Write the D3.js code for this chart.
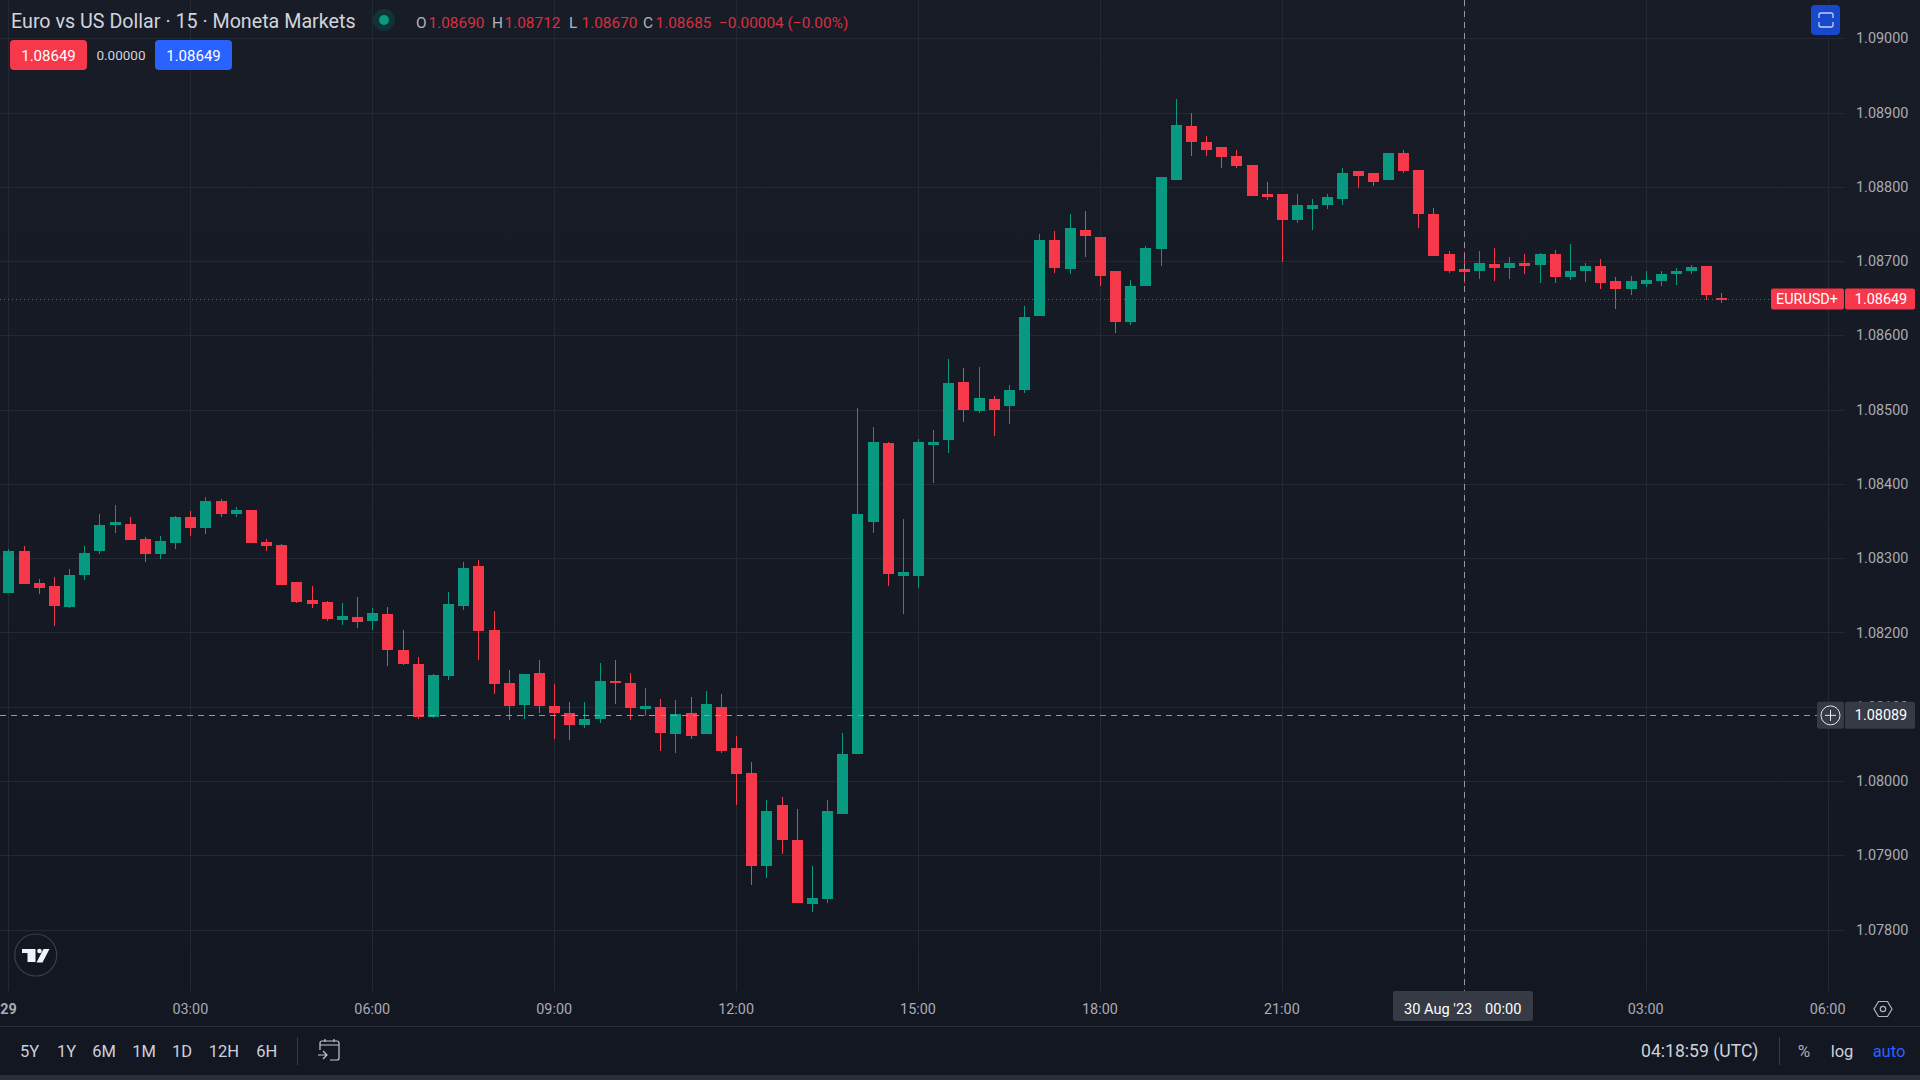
<!DOCTYPE html>
<html>
<head>
<meta charset="utf-8">
<script src="https://cdn.jsdelivr.net/npm/d3@7"></script>
<style>
  html, body { margin: 0; padding: 0; background: #131722; overflow: hidden; }
  svg { display: block; }
  text { font-family: Roboto, sans-serif; }
</style>
</head>
<body>
<div id="chart"></div>
<script>
const width = 1920;
const height = 1080;

const colors = {
  up: "#089981",
  down: "#f7374a",
  grid: "#242833",
  axisText: "#a9acb5",
  toolbarText: "#cdd1da",
  crosshair: "#9598a1",
  crossBox: "#363a45",
  blue: "#2962ff"
};

// 15 minute bars, first one at 29 Aug 2023 00:00 UTC
const firstBar = Date.UTC(2023, 7, 29, 0, 0);
const barMinutes = 15;

const open = [
  1.08253, 1.08310, 1.08267, 1.08263, 1.08234, 1.08278, 1.08309, 1.08344, 1.08346, 1.08326, 1.08305, 1.08321,
  1.08356, 1.08340, 1.08377, 1.08360, 1.08365, 1.08322, 1.08318, 1.08268, 1.08244, 1.08241, 1.08217, 1.08221,
  1.08216, 1.08225, 1.08176, 1.08157, 1.08086, 1.08141, 1.08236, 1.08290, 1.08203, 1.08132, 1.08102, 1.08146,
  1.08101, 1.08092, 1.08075, 1.08083, 1.08134, 1.08132, 1.08097, 1.08099, 1.08063, 1.08092, 1.08063, 1.08099,
  1.08045, 1.08011, 1.07886, 1.07968, 1.07921, 1.07835, 1.07841, 1.07956, 1.08036, 1.08349, 1.08455, 1.08276,
  1.08276, 1.08452, 1.08459, 1.08537, 1.08498, 1.08514, 1.08505, 1.08526, 1.08626, 1.08728, 1.08690, 1.08742,
  1.08733, 1.08686, 1.08618, 1.08666, 1.08716, 1.08809, 1.08882, 1.08861, 1.08853, 1.08841, 1.08830, 1.08790,
  1.08790, 1.08755, 1.08770, 1.08776, 1.08784, 1.08821, 1.08818, 1.08809, 1.08845, 1.08822, 1.08764, 1.08710,
  1.08690, 1.08686, 1.08696, 1.08691, 1.08698, 1.08695, 1.08710, 1.08678, 1.08686, 1.08694, 1.08673, 1.08663,
  1.08669, 1.08673, 1.08682, 1.08687, 1.08694, 1.08650
];
const high = [
  1.08313, 1.08317, 1.08272, 1.08274, 1.08286, 1.08317, 1.08359, 1.08371, 1.08356, 1.08328, 1.08330, 1.08357,
  1.08363, 1.08383, 1.08380, 1.08369, 1.08365, 1.08326, 1.08319, 1.08268, 1.08263, 1.08242, 1.08240, 1.08248,
  1.08233, 1.08234, 1.08203, 1.08167, 1.08144, 1.08255, 1.08295, 1.08298, 1.08229, 1.08150, 1.08144, 1.08163,
  1.08130, 1.08107, 1.08107, 1.08159, 1.08163, 1.08146, 1.08125, 1.08111, 1.08109, 1.08113, 1.08121, 1.08117,
  1.08061, 1.08025, 1.07975, 1.07979, 1.07962, 1.07886, 1.07975, 1.08064, 1.08502, 1.08476, 1.08457, 1.08353,
  1.08460, 1.08472, 1.08568, 1.08556, 1.08557, 1.08518, 1.08533, 1.08640, 1.08737, 1.08740, 1.08764, 1.08767,
  1.08733, 1.08686, 1.08674, 1.08721, 1.08813, 1.08918, 1.08900, 1.08869, 1.08853, 1.08849, 1.08830, 1.08806,
  1.08790, 1.08791, 1.08783, 1.08791, 1.08826, 1.08821, 1.08818, 1.08846, 1.08849, 1.08822, 1.08772, 1.08713,
  1.08712, 1.08714, 1.08718, 1.08706, 1.08709, 1.08711, 1.08715, 1.08723, 1.08698, 1.08703, 1.08679, 1.08680,
  1.08687, 1.08687, 1.08691, 1.08695, 1.08694, 1.08657
];
const low = [
  1.08253, 1.08265, 1.08252, 1.08209, 1.08233, 1.08271, 1.08306, 1.08334, 1.08325, 1.08295, 1.08299, 1.08313,
  1.08330, 1.08333, 1.08356, 1.08356, 1.08321, 1.08309, 1.08264, 1.08240, 1.08233, 1.08215, 1.08210, 1.08206,
  1.08203, 1.08155, 1.08156, 1.08083, 1.08085, 1.08136, 1.08230, 1.08163, 1.08117, 1.08082, 1.08084, 1.08092,
  1.08057, 1.08055, 1.08071, 1.08078, 1.08103, 1.08082, 1.08088, 1.08040, 1.08037, 1.08056, 1.08063, 1.08037,
  1.07967, 1.07860, 1.07870, 1.07901, 1.07836, 1.07824, 1.07836, 1.07956, 1.08036, 1.08334, 1.08262, 1.08225,
  1.08260, 1.08401, 1.08442, 1.08484, 1.08496, 1.08465, 1.08480, 1.08523, 1.08626, 1.08684, 1.08682, 1.08705,
  1.08666, 1.08603, 1.08614, 1.08666, 1.08693, 1.08809, 1.08841, 1.08842, 1.08826, 1.08826, 1.08787, 1.08782,
  1.08699, 1.08751, 1.08742, 1.08770, 1.08775, 1.08799, 1.08801, 1.08809, 1.08819, 1.08745, 1.08707, 1.08684,
  1.08670, 1.08676, 1.08673, 1.08676, 1.08683, 1.08671, 1.08671, 1.08675, 1.08672, 1.08663, 1.08636, 1.08655,
  1.08665, 1.08667, 1.08668, 1.08683, 1.08648, 1.08644
];
const close = [
  1.08310, 1.08265, 1.08260, 1.08236, 1.08278, 1.08307, 1.08345, 1.08349, 1.08325, 1.08306, 1.08323, 1.08356,
  1.08340, 1.08377, 1.08360, 1.08365, 1.08321, 1.08317, 1.08264, 1.08241, 1.08238, 1.08218, 1.08222, 1.08214,
  1.08226, 1.08176, 1.08157, 1.08086, 1.08143, 1.08238, 1.08287, 1.08202, 1.08130, 1.08101, 1.08144, 1.08101,
  1.08092, 1.08076, 1.08084, 1.08134, 1.08133, 1.08098, 1.08101, 1.08064, 1.08090, 1.08061, 1.08103, 1.08040,
  1.08009, 1.07886, 1.07959, 1.07920, 1.07836, 1.07843, 1.07960, 1.08036, 1.08360, 1.08456, 1.08279, 1.08282,
  1.08457, 1.08457, 1.08536, 1.08499, 1.08515, 1.08499, 1.08527, 1.08625, 1.08728, 1.08691, 1.08745, 1.08734,
  1.08680, 1.08618, 1.08667, 1.08717, 1.08813, 1.08883, 1.08860, 1.08849, 1.08840, 1.08828, 1.08787, 1.08786,
  1.08755, 1.08775, 1.08776, 1.08786, 1.08819, 1.08815, 1.08807, 1.08845, 1.08821, 1.08764, 1.08707, 1.08687,
  1.08685, 1.08698, 1.08691, 1.08698, 1.08694, 1.08709, 1.08678, 1.08687, 1.08694, 1.08671, 1.08663, 1.08673,
  1.08675, 1.08683, 1.08687, 1.08692, 1.08655, 1.08649
];

const priceTicks = [1.09, 1.089, 1.088, 1.087, 1.086, 1.085, 1.084, 1.083, 1.082, 1.081, 1.08, 1.079, 1.078];
const rangeButtons = ["5Y", "1Y", "6M", "1M", "1D", "12H", "6H"];
const legendValues = [
  ["O", "1.08690"],
  ["H", "1.08712"],
  ["L", "1.08670"],
  ["C", "1.08685"]
];
const lastPrice = 1.08649;
const crossPrice = 1.08089;
const crossTime = Date.UTC(2023, 7, 30, 0, 0);

const bars = open.map((o, i) => ({
  time: new Date(firstBar + i * barMinutes * 60000),
  open: o,
  high: high[i],
  low: low[i],
  close: close[i]
}));

const plotBottom = 991;
const axisBottom = 1026;
const priceAxisLeft = 1845;

const svg = d3.select("#chart")
  .append("svg")
  .attr("width", width)
  .attr("height", height)
  .attr("viewBox", `0 0 ${width} ${height}`);

const gradient = svg.append("defs")
  .append("linearGradient")
  .attr("id", "paneBg")
  .attr("x1", 0).attr("y1", 0).attr("x2", 0).attr("y2", 1);
gradient.append("stop").attr("offset", "0%").attr("stop-color", "#181c27");
gradient.append("stop").attr("offset", "100%").attr("stop-color", "#131722");

svg.append("rect")
  .attr("width", width)
  .attr("height", axisBottom)
  .attr("fill", "url(#paneBg)");

svg.append("rect")
  .attr("y", axisBottom)
  .attr("width", width)
  .attr("height", height - axisBottom)
  .attr("fill", "#131722");

svg.append("rect")
  .attr("y", 1075)
  .attr("width", width)
  .attr("height", 5)
  .attr("fill", "#2a2e39");

svg.append("line")
  .attr("x1", 0).attr("x2", width)
  .attr("y1", axisBottom + 0.5).attr("y2", axisBottom + 0.5)
  .attr("stroke", "#2a2e39");

const x = d3.scaleUtc()
  .domain([new Date(firstBar), new Date(firstBar + 120 * barMinutes * 60000)])
  .range([8.4, 1827.6]);

const y = d3.scaleLinear()
  .domain([1.09, 1.078])
  .range([38.3, 929.5]);

const timeTicks = x.ticks(d3.utcHour.every(3));

// grid
svg.append("g")
  .selectAll("line")
  .data(timeTicks)
  .join("line")
  .attr("x1", d => Math.round(x(d)) + 0.5)
  .attr("x2", d => Math.round(x(d)) + 0.5)
  .attr("y1", 0)
  .attr("y2", plotBottom)
  .attr("stroke", colors.grid);

svg.append("g")
  .selectAll("line")
  .data(priceTicks)
  .join("line")
  .attr("x1", 0)
  .attr("x2", priceAxisLeft)
  .attr("y1", d => Math.round(y(d)) + 0.5)
  .attr("y2", d => Math.round(y(d)) + 0.5)
  .attr("stroke", colors.grid);

// candles
const candle = svg.append("g")
  .attr("shape-rendering", "crispEdges")
  .selectAll("g")
  .data(bars)
  .join("g")
  .attr("fill", d => d.close >= d.open ? colors.up : colors.down);

candle.append("rect")
  .attr("x", d => Math.round(x(d.time)))
  .attr("width", 1)
  .attr("y", d => y(d.high))
  .attr("height", d => y(d.low) - y(d.high));

candle.append("rect")
  .attr("x", d => Math.round(x(d.time)) - 5)
  .attr("width", 11)
  .attr("y", d => y(Math.max(d.open, d.close)))
  .attr("height", d => Math.max(1.5, Math.abs(y(d.open) - y(d.close))));

// price axis
const priceAxis = svg.append("g")
  .attr("transform", `translate(${priceAxisLeft}, 0)`)
  .call(d3.axisRight(y).tickValues(priceTicks).tickFormat(d3.format(".5f")).tickSize(0).tickPadding(11));
priceAxis.select(".domain").remove();
priceAxis.selectAll("text")
  .attr("fill", colors.axisText)
  .style("font-size", "14.4px")
  .style("font-family", "Roboto, sans-serif");

// time axis, the midnight label under the crosshair box stays hidden
const timeAxis = svg.append("g")
  .attr("transform", `translate(-0.5, ${plotBottom})`)
  .call(d3.axisBottom(x)
    .tickValues(timeTicks.filter(d => +d !== crossTime))
    .tickFormat(d => d.getUTCHours() === 0 ? d3.utcFormat("%-d")(d) : d3.utcFormat("%H:%M")(d))
    .tickSize(0)
    .tickPadding(13));
timeAxis.select(".domain").remove();
timeAxis.selectAll("text")
  .attr("fill", colors.axisText)
  .style("font-size", "14.4px")
  .style("font-family", "Roboto, sans-serif")
  .style("font-weight", d => d.getUTCHours() === 0 ? 700 : 400);

// last price line and labels
svg.append("line")
  .attr("x1", 0)
  .attr("x2", 1771)
  .attr("y1", Math.round(y(lastPrice)) + 0.5)
  .attr("y2", Math.round(y(lastPrice)) + 0.5)
  .attr("stroke", colors.down)
  .attr("stroke-opacity", 0.85)
  .attr("stroke-dasharray", "1 3");

svg.append("rect")
  .attr("x", 1771).attr("y", y(lastPrice) - 10.5)
  .attr("width", 73).attr("height", 21).attr("rx", 2)
  .attr("fill", colors.down);
svg.append("rect")
  .attr("x", 1845).attr("y", y(lastPrice) - 10.5)
  .attr("width", 70).attr("height", 21).attr("rx", 2)
  .attr("fill", colors.down);
svg.append("text")
  .attr("x", 1807).attr("y", y(lastPrice) + 5.5)
  .attr("text-anchor", "middle").attr("fill", "#fff").attr("font-size", 14.4)
  .text("EURUSD+");
svg.append("text")
  .attr("x", 1881).attr("y", y(lastPrice) + 5.5)
  .attr("text-anchor", "middle").attr("fill", "#fff").attr("font-size", 14.4)
  .text(d3.format(".5f")(lastPrice));

// crosshair
svg.append("line")
  .attr("x1", 0).attr("x2", 1817)
  .attr("y1", Math.round(y(crossPrice)) + 0.5)
  .attr("y2", Math.round(y(crossPrice)) + 0.5)
  .attr("stroke", colors.crosshair)
  .attr("stroke-dasharray", "6 5");
svg.append("line")
  .attr("x1", Math.round(x(crossTime)) + 0.5)
  .attr("x2", Math.round(x(crossTime)) + 0.5)
  .attr("y1", 0).attr("y2", plotBottom)
  .attr("stroke", colors.crosshair)
  .attr("stroke-dasharray", "6 5");

svg.append("rect")
  .attr("x", 1817).attr("y", y(crossPrice) - 13)
  .attr("width", 27).attr("height", 27).attr("rx", 2)
  .attr("fill", colors.crossBox);
svg.append("rect")
  .attr("x", 1845).attr("y", y(crossPrice) - 13)
  .attr("width", 70).attr("height", 27).attr("rx", 2)
  .attr("fill", colors.crossBox);
svg.append("circle")
  .attr("cx", 1830.5).attr("cy", y(crossPrice) + 0.5).attr("r", 9.5)
  .attr("fill", "none").attr("stroke", "#e4e5e8");
svg.append("path")
  .attr("d", `M1825 ${y(crossPrice) + 0.5}h11M1830.5 ${y(crossPrice) - 5}v11`)
  .attr("stroke", "#e4e5e8");
svg.append("text")
  .attr("x", 1881).attr("y", y(crossPrice) + 5.5)
  .attr("text-anchor", "middle").attr("fill", "#fff").attr("font-size", 14.4)
  .text(d3.format(".5f")(crossPrice));

svg.append("rect")
  .attr("x", 1393).attr("y", plotBottom)
  .attr("width", 140).attr("height", 30).attr("rx", 2)
  .attr("fill", colors.crossBox);
svg.append("text")
  .attr("x", 1404).attr("y", 1014)
  .attr("fill", "#fff").attr("font-size", 14.6)
  .text("30 Aug '23");
svg.append("text")
  .attr("x", 1485).attr("y", 1014)
  .attr("fill", "#fff").attr("font-size", 14.6)
  .text("00:00");

// legend
svg.append("text")
  .attr("x", 11).attr("y", 28)
  .attr("fill", "#d1d4dc").attr("font-size", 19.7)
  .text("Euro vs US Dollar · 15 · Moneta Markets");

svg.append("circle").attr("cx", 384).attr("cy", 20).attr("r", 11).attr("fill", "#0f3a3a").attr("opacity", 0.8);
svg.append("circle").attr("cx", 384).attr("cy", 20).attr("r", 5).attr("fill", colors.up);

const legendX = [416, 492, 569, 643];
legendValues.forEach(([label, value], i) => {
  svg.append("text")
    .attr("x", legendX[i]).attr("y", 28)
    .attr("fill", "#b2b5be").attr("font-size", 15.4)
    .text(label);
  svg.append("text")
    .attr("x", legendX[i] + 12.5).attr("y", 28)
    .attr("fill", "#d92f3f").attr("font-size", 15.4)
    .text(value);
});
svg.append("text")
  .attr("x", 719).attr("y", 28)
  .attr("fill", "#d92f3f").attr("font-size", 15.4)
  .text("−0.00004 (−0.00%)");

svg.append("rect").attr("x", 10).attr("y", 40).attr("width", 77).attr("height", 30).attr("rx", 4).attr("fill", colors.down);
svg.append("text")
  .attr("x", 48.5).attr("y", 60.5).attr("text-anchor", "middle")
  .attr("fill", "#fff").attr("font-size", 15)
  .text(d3.format(".5f")(lastPrice));
svg.append("text")
  .attr("x", 121).attr("y", 60).attr("text-anchor", "middle")
  .attr("fill", "#d1d4dc").attr("font-size", 13.5)
  .text("0.00000");
svg.append("rect").attr("x", 155).attr("y", 40).attr("width", 77).attr("height", 30).attr("rx", 4).attr("fill", colors.blue);
svg.append("text")
  .attr("x", 193.5).attr("y", 60.5).attr("text-anchor", "middle")
  .attr("fill", "#fff").attr("font-size", 15)
  .text(d3.format(".5f")(lastPrice));

// blue screenshot button
svg.append("rect").attr("x", 1811).attr("y", 5).attr("width", 29).attr("height", 30).attr("rx", 4).attr("fill", "#1848cc");
svg.append("path")
  .attr("d", "M1819 18v-3a2 2 0 0 1 2-2h10a2 2 0 0 1 2 2v3M1819 22v3a2 2 0 0 0 2 2h10a2 2 0 0 0 2-2v-3")
  .attr("fill", "none").attr("stroke", "#c5cfee").attr("stroke-width", 1.3);

// logo
svg.append("circle")
  .attr("cx", 35.7).attr("cy", 955).attr("r", 21)
  .attr("fill", "#131722").attr("stroke", "#3b3f4b").attr("stroke-width", 1.2);
svg.append("path")
  .attr("d", "M22 949h13.5v13h-8v-9h-5.5zM49.5 949l-7 13.5h-6l7-13.5z")
  .attr("fill", "#f0f3fa");
svg.append("circle").attr("cx", 39.5).attr("cy", 951).attr("r", 2.3).attr("fill", "#f0f3fa");

// bottom toolbar
const buttonX = [29.5, 66.7, 104, 144, 182, 224, 266.7];
svg.append("g")
  .selectAll("text")
  .data(rangeButtons)
  .join("text")
  .attr("x", (d, i) => buttonX[i])
  .attr("y", 1056.5)
  .attr("text-anchor", "middle")
  .attr("fill", colors.toolbarText)
  .attr("font-size", 16.5)
  .text(d => d);

svg.append("path").attr("d", "M297.5 1037v28M1779.5 1037v28").attr("stroke", "#363a45");

svg.append("path")
  .attr("d", "M320 1050v-7a2 2 0 0 1 2-2h15a2 2 0 0 1 2 2v15a2 2 0 0 1-2 2h-7M320 1045h19M325 1039v3M334 1039v3M318 1055h9M323 1051l4 4-4 4")
  .attr("fill", "none").attr("stroke", "#c5c8d0").attr("stroke-width", 1.2);

svg.append("path")
  .attr("d", "M1878.5 1001.5h9l4.5 7.5-4.5 7.5h-9l-4.5-7.5z")
  .attr("fill", "none").attr("stroke", "#b2b5be").attr("stroke-width", 1.2);
svg.append("circle").attr("cx", 1883).attr("cy", 1009).attr("r", 2.7).attr("fill", "none").attr("stroke", "#b2b5be").attr("stroke-width", 1.2);

svg.append("text")
  .attr("x", 1641).attr("y", 1057)
  .attr("fill", colors.toolbarText).attr("font-size", 17.6)
  .text("04:18:59 (UTC)");
svg.append("text")
  .attr("x", 1804).attr("y", 1057).attr("text-anchor", "middle")
  .attr("fill", colors.axisText).attr("font-size", 17)
  .text("%");
svg.append("text")
  .attr("x", 1842).attr("y", 1057).attr("text-anchor", "middle")
  .attr("fill", colors.toolbarText).attr("font-size", 16.5)
  .text("log");
svg.append("text")
  .attr("x", 1889).attr("y", 1057).attr("text-anchor", "middle")
  .attr("fill", colors.blue).attr("font-size", 16.5)
  .text("auto");
</script>
</body>
</html>
